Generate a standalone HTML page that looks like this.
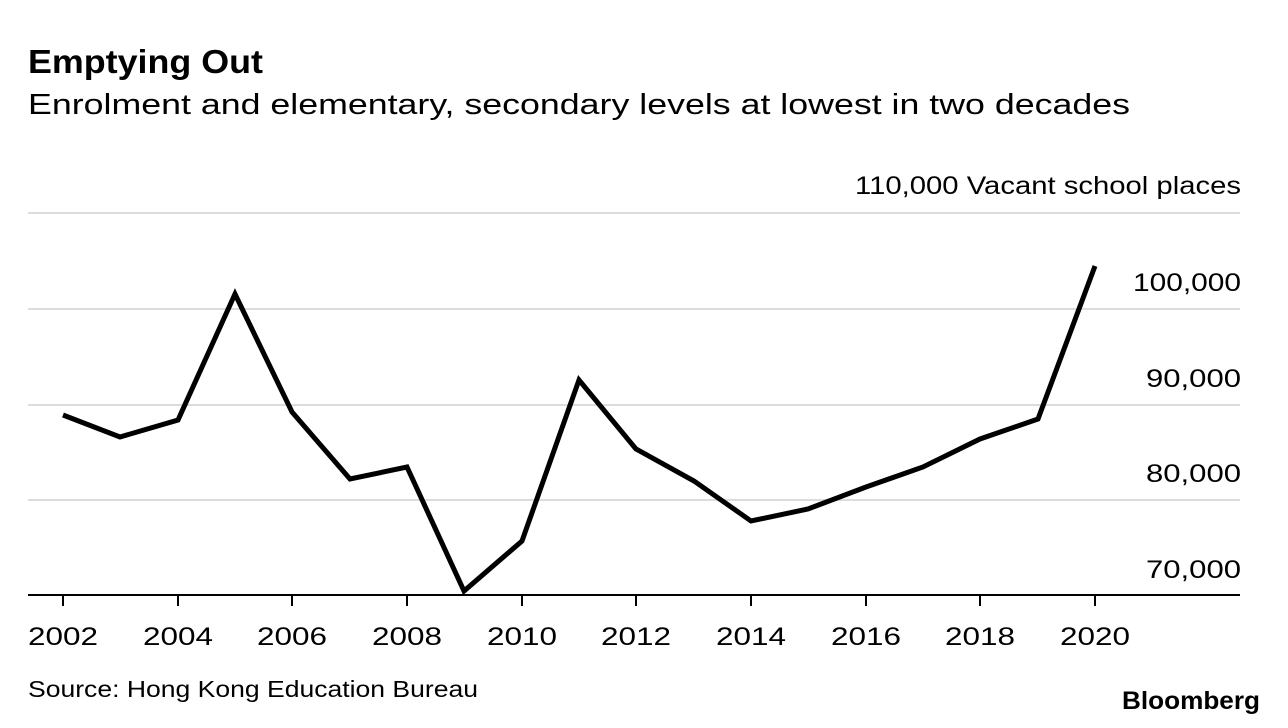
<!DOCTYPE html>
<html><head><meta charset="utf-8"><style>
html,body{margin:0;padding:0;background:#fff;width:1288px;height:728px;overflow:hidden}
svg{display:block}
text{font-family:"Liberation Sans",sans-serif;fill:#000}
</style></head><body>
<svg width="1288" height="728" viewBox="0 0 1288 728">
<text x="28" y="73" font-size="33" font-weight="bold" textLength="235" lengthAdjust="spacingAndGlyphs">Emptying Out</text>
<text x="28" y="114" font-size="29" textLength="1102" lengthAdjust="spacingAndGlyphs">Enrolment and elementary, secondary levels at lowest in two decades</text>
<g stroke="#dcdcdc" stroke-width="2">
<line x1="28" y1="213" x2="1240" y2="213"/>
<line x1="28" y1="309" x2="1240" y2="309"/>
<line x1="28" y1="405" x2="1240" y2="405"/>
<line x1="28" y1="500" x2="1240" y2="500"/>
</g>
<g font-size="25">
<text x="855" y="194" textLength="386" lengthAdjust="spacingAndGlyphs">110,000 Vacant school places</text>
<text x="1133" y="291" textLength="108" lengthAdjust="spacingAndGlyphs">100,000</text>
<text x="1146" y="387" textLength="95" lengthAdjust="spacingAndGlyphs">90,000</text>
<text x="1146" y="482" textLength="95" lengthAdjust="spacingAndGlyphs">80,000</text>
<text x="1146" y="578" textLength="95" lengthAdjust="spacingAndGlyphs">70,000</text>
</g>
<line x1="28" y1="595" x2="1240" y2="595" stroke="#000" stroke-width="2"/>
<g stroke="#000" stroke-width="2">
<line x1="63" y1="595" x2="63" y2="606"/><line x1="178" y1="595" x2="178" y2="606"/>
<line x1="292" y1="595" x2="292" y2="606"/><line x1="407" y1="595" x2="407" y2="606"/>
<line x1="522" y1="595" x2="522" y2="606"/><line x1="636" y1="595" x2="636" y2="606"/>
<line x1="751" y1="595" x2="751" y2="606"/><line x1="866" y1="595" x2="866" y2="606"/>
<line x1="980" y1="595" x2="980" y2="606"/><line x1="1095" y1="595" x2="1095" y2="606"/>
</g>
<g font-size="25" text-anchor="middle">
<text x="63" y="645" textLength="70" lengthAdjust="spacingAndGlyphs">2002</text><text x="178" y="645" textLength="70" lengthAdjust="spacingAndGlyphs">2004</text><text x="292" y="645" textLength="70" lengthAdjust="spacingAndGlyphs">2006</text>
<text x="407" y="645" textLength="70" lengthAdjust="spacingAndGlyphs">2008</text><text x="522" y="645" textLength="70" lengthAdjust="spacingAndGlyphs">2010</text><text x="636" y="645" textLength="70" lengthAdjust="spacingAndGlyphs">2012</text>
<text x="751" y="645" textLength="70" lengthAdjust="spacingAndGlyphs">2014</text><text x="866" y="645" textLength="70" lengthAdjust="spacingAndGlyphs">2016</text><text x="980" y="645" textLength="70" lengthAdjust="spacingAndGlyphs">2018</text>
<text x="1095" y="645" textLength="70" lengthAdjust="spacingAndGlyphs">2020</text>
</g>
<polyline fill="none" stroke="#000" stroke-width="5" stroke-linejoin="miter" points="63,415 120,437 178,420 235,294 292,412 350,479 407,467 464,591 522,541 579,380 636,449 694,481 751,521 808,509 866,487 923,467 980,439 1038,419 1095,266"/>
<text x="28" y="697" font-size="23" textLength="450" lengthAdjust="spacingAndGlyphs">Source: Hong Kong Education Bureau</text>
<text x="1122" y="709" font-size="25" font-weight="bold" textLength="138" lengthAdjust="spacingAndGlyphs">Bloomberg</text>
</svg>
</body></html>
